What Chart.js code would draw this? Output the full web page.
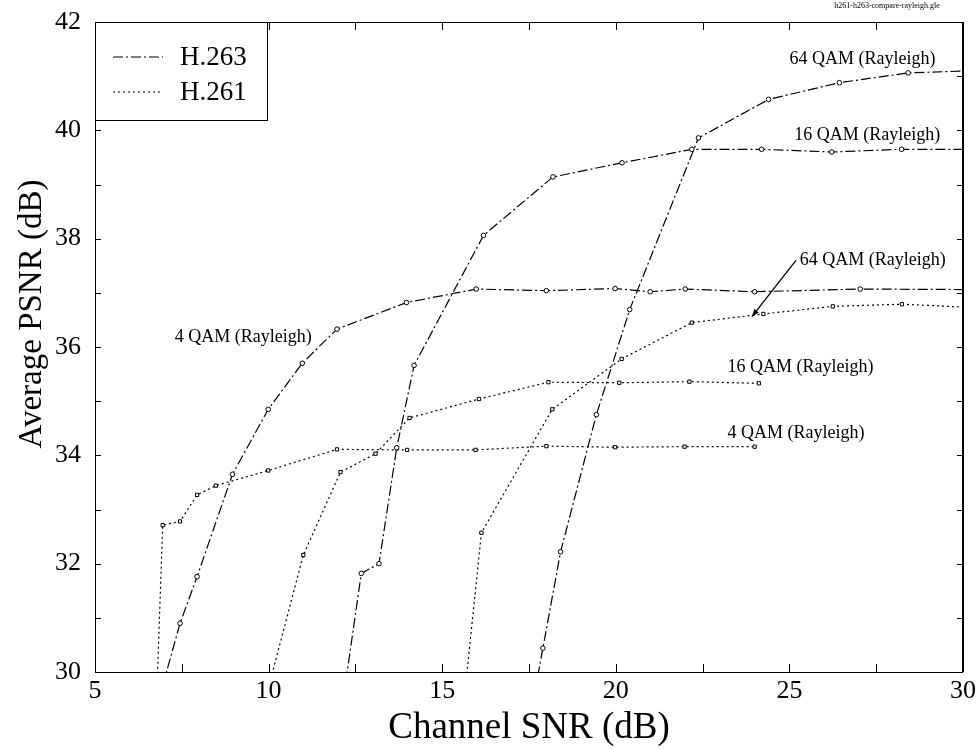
<!DOCTYPE html>
<html>
<head>
<meta charset="utf-8">
<script src="https://cdn.jsdelivr.net/npm/chart.js@4"></script>
<style>
  html, body { margin: 0; padding: 0; background: #fff; }
  #wrap { width: 980px; height: 749px; }
</style>
</head>
<body>
<div id="wrap"><canvas id="psnrChart" width="980" height="749"></canvas></div>
<script>
// Channel SNR (dB) / Average PSNR (dB)
const h263_4qamX  = [6.95, 7.45, 7.94, 8.96, 9.99, 10.97, 11.97, 13.97, 15.98, 18.0, 19.98, 20.99, 22.0, 24.0, 27.04, 30.25];
const h263_4qamY  = [29.75, 30.9, 31.76, 33.65, 34.85, 35.7, 36.33, 36.82, 37.07, 37.04, 37.08, 37.02, 37.07, 37.02, 37.07, 37.06];
const h263_16qamX = [12.15, 12.67, 13.18, 13.69, 14.19, 16.19, 18.19, 20.18, 22.19, 24.2, 26.22, 28.23, 30.25];
const h263_16qamY = [29.5, 31.82, 32.0, 34.14, 35.66, 38.06, 39.14, 39.4, 39.65, 39.65, 39.6, 39.65, 39.65];
const h263_64qamX = [17.75, 17.9, 18.41, 19.44, 20.4, 22.38, 24.4, 26.44, 28.42, 30.25];
const h263_64qamY = [29.92, 30.44, 32.22, 34.75, 36.69, 39.86, 40.57, 40.88, 41.06, 41.1];

const h261_4qamX  = [6.78, 6.95, 7.45, 7.94, 8.48, 9.99, 11.97, 13.99, 15.96, 18.0, 19.98, 21.98, 24.0];
const h261_4qamY  = [29.6, 32.71, 32.78, 33.27, 33.44, 33.72, 34.11, 34.1, 34.1, 34.17, 34.15, 34.16, 34.16];
const h261_16qamX = [9.95, 11.0, 12.07, 13.08, 14.06, 16.06, 18.06, 20.1, 22.12, 24.12];
const h261_16qamY = [29.6, 32.16, 33.69, 34.03, 34.69, 35.04, 35.35, 35.34, 35.36, 35.33];
const h261_64qamX = [15.65, 16.13, 18.17, 20.17, 22.19, 24.25, 26.25, 28.24, 30.25];
const h261_64qamY = [29.6, 32.57, 34.85, 35.78, 36.45, 36.61, 36.75, 36.79, 36.73];

const xTicks = [5, 10, 15, 20, 25, 30];
const yTicks = [30, 32, 34, 36, 38, 40, 42];

// curve labels: text, left x, middle y (data units)
const curveLabels = [
  ['64 QAM (Rayleigh)', 25.0, 41.31],
  ['16 QAM (Rayleigh)', 25.14, 39.91],
  ['64 QAM (Rayleigh)', 25.3, 37.6],
  ['16 QAM (Rayleigh)', 23.22, 35.63],
  ['4 QAM (Rayleigh)', 23.22, 34.41],
  ['4 QAM (Rayleigh)', 7.3, 36.18],
];
const arrowFrom = [25.19, 37.6];
const arrowTo   = [23.92, 36.56];

const SERIF = "'Liberation Serif', 'DejaVu Serif', serif";
const DASHDOT = [10, 3, 2, 3];
const DOTTED = [2, 3];

const pts = (xs, ys) => xs.map((x, i) => ({ x, y: ys[i] }));

function series(label, xs, ys, dash, marker) {
  return {
    label,
    data: pts(xs, ys),
    showLine: true,
    borderColor: '#000',
    borderWidth: 1.2,
    borderDash: dash,
    pointStyle: marker,
    pointRadius: 2.3,
    pointBorderWidth: 1,
    pointBorderColor: '#000',
    pointBackgroundColor: '#fff',
    tension: 0,
  };
}

const frame = {
  id: 'frame',
  afterDraw(chart) {
    const { ctx, chartArea: a, scales: { x, y } } = chart;
    ctx.save();
    ctx.setLineDash([]);
    ctx.strokeStyle = '#000';
    ctx.lineWidth = 1;
    ctx.strokeRect(a.left + 0.5, a.top + 0.5, a.right - a.left - 1, a.bottom - a.top);
    ctx.lineWidth = 2;
    ctx.beginPath(); ctx.moveTo(a.right, a.top); ctx.lineTo(a.right, a.bottom); ctx.stroke();
    ctx.lineWidth = 1;

    // inward ticks on all four sides
    ctx.beginPath();
    for (let v = 5; v <= 30; v += 2.5) {
      const px = Math.round(x.getPixelForValue(v)) + 0.5;
      ctx.moveTo(px, a.bottom); ctx.lineTo(px, a.bottom - 8);
      ctx.moveTo(px, a.top); ctx.lineTo(px, a.top + 8);
    }
    for (let v = 30; v <= 42; v += 1) {
      const py = Math.round(y.getPixelForValue(v)) + 0.5;
      ctx.moveTo(a.left, py); ctx.lineTo(a.left + 6, py);
      ctx.moveTo(a.right, py); ctx.lineTo(a.right - 6, py);
    }
    ctx.stroke();

    // legend box
    const lx = a.left, ly = a.top, lw = 172, lh = 98;
    ctx.fillStyle = '#fff';
    ctx.fillRect(lx, ly, lw, lh);
    ctx.strokeRect(lx + 0.5, ly + 0.5, lw, lh);
    const entries = [['H.263', DASHDOT, 35], ['H.261', DOTTED, 70]];
    ctx.fillStyle = '#000';
    ctx.font = '27px ' + SERIF;
    ctx.textBaseline = 'middle';
    ctx.textAlign = 'left';
    entries.forEach(([txt, dash, dy]) => {
      ctx.setLineDash(dash);
      ctx.lineWidth = 1.2;
      ctx.beginPath(); ctx.moveTo(lx + 18, ly + dy); ctx.lineTo(lx + 68, ly + dy); ctx.stroke();
      ctx.setLineDash([]);
      ctx.fillText(txt, lx + 85, ly + dy + 1);
    });

    // curve labels
    ctx.font = '18px ' + SERIF;
    curveLabels.forEach(([t, vx, vy]) => {
      ctx.fillText(t, x.getPixelForValue(vx), y.getPixelForValue(vy));
    });

    // arrow to the H.261 64 QAM curve
    const ax0 = x.getPixelForValue(arrowFrom[0]), ay0 = y.getPixelForValue(arrowFrom[1]);
    const ax1 = x.getPixelForValue(arrowTo[0]), ay1 = y.getPixelForValue(arrowTo[1]);
    const ang = Math.atan2(ay1 - ay0, ax1 - ax0);
    ctx.lineWidth = 1.3;
    ctx.beginPath(); ctx.moveTo(ax0, ay0); ctx.lineTo(ax1, ay1); ctx.stroke();
    ctx.beginPath();
    ctx.moveTo(ax1, ay1);
    ctx.lineTo(ax1 - 8 * Math.cos(ang - 0.35), ay1 - 8 * Math.sin(ang - 0.35));
    ctx.lineTo(ax1 - 8 * Math.cos(ang + 0.35), ay1 - 8 * Math.sin(ang + 0.35));
    ctx.closePath(); ctx.fill();

    // axis titles
    ctx.textAlign = 'center';
    ctx.font = '37px ' + SERIF;
    ctx.fillText('Channel SNR (dB)', (a.left + a.right) / 2, 728);
    ctx.save();
    ctx.translate(32, 314);
    ctx.rotate(-Math.PI / 2);
    ctx.font = '33px ' + SERIF;
    ctx.fillText('Average PSNR (dB)', 0, 0);
    ctx.restore();

    // file tag
    ctx.font = '8px ' + SERIF;
    ctx.fillText('h261-h263-compare-rayleigh.gle', 887, 6);
    ctx.restore();
  }
};

new Chart(document.getElementById('psnrChart'), {
  type: 'scatter',
  data: {
    datasets: [
      series('H.263 4 QAM', h263_4qamX, h263_4qamY, DASHDOT, 'circle'),
      series('H.263 16 QAM', h263_16qamX, h263_16qamY, DASHDOT, 'circle'),
      series('H.263 64 QAM', h263_64qamX, h263_64qamY, DASHDOT, 'circle'),
      series('H.261 4 QAM', h261_4qamX, h261_4qamY, DOTTED, 'rect'),
      series('H.261 16 QAM', h261_16qamX, h261_16qamY, DOTTED, 'rect'),
      series('H.261 64 QAM', h261_64qamX, h261_64qamY, DOTTED, 'rect'),
    ]
  },
  options: {
    responsive: false,
    animation: false,
    layout: { padding: { top: 22, right: 17, left: 0, bottom: 0 } },
    plugins: { legend: { display: false }, tooltip: { enabled: false } },
    scales: {
      x: {
        type: 'linear', min: 5, max: 30,
        afterBuildTicks: s => { s.ticks = xTicks.map(v => ({ value: v })); },
        afterFit: s => { s.height = 77; s.paddingLeft = 0; s.paddingRight = 0; },
        grid: { display: false, drawTicks: false },
        border: { display: false },
        ticks: { color: '#000', font: { family: SERIF, size: 26 }, padding: 4, maxRotation: 0 }
      },
      y: {
        type: 'linear', min: 30, max: 42,
        afterBuildTicks: s => { s.ticks = yTicks.map(v => ({ value: v })); },
        afterFit: s => { s.width = 95; s.paddingTop = 0; s.paddingBottom = 0; },
        grid: { display: false, drawTicks: false },
        border: { display: false },
        ticks: { color: '#000', font: { family: SERIF, size: 26 }, padding: 14 }
      }
    }
  },
  plugins: [frame]
});
</script>
</body>
</html>
